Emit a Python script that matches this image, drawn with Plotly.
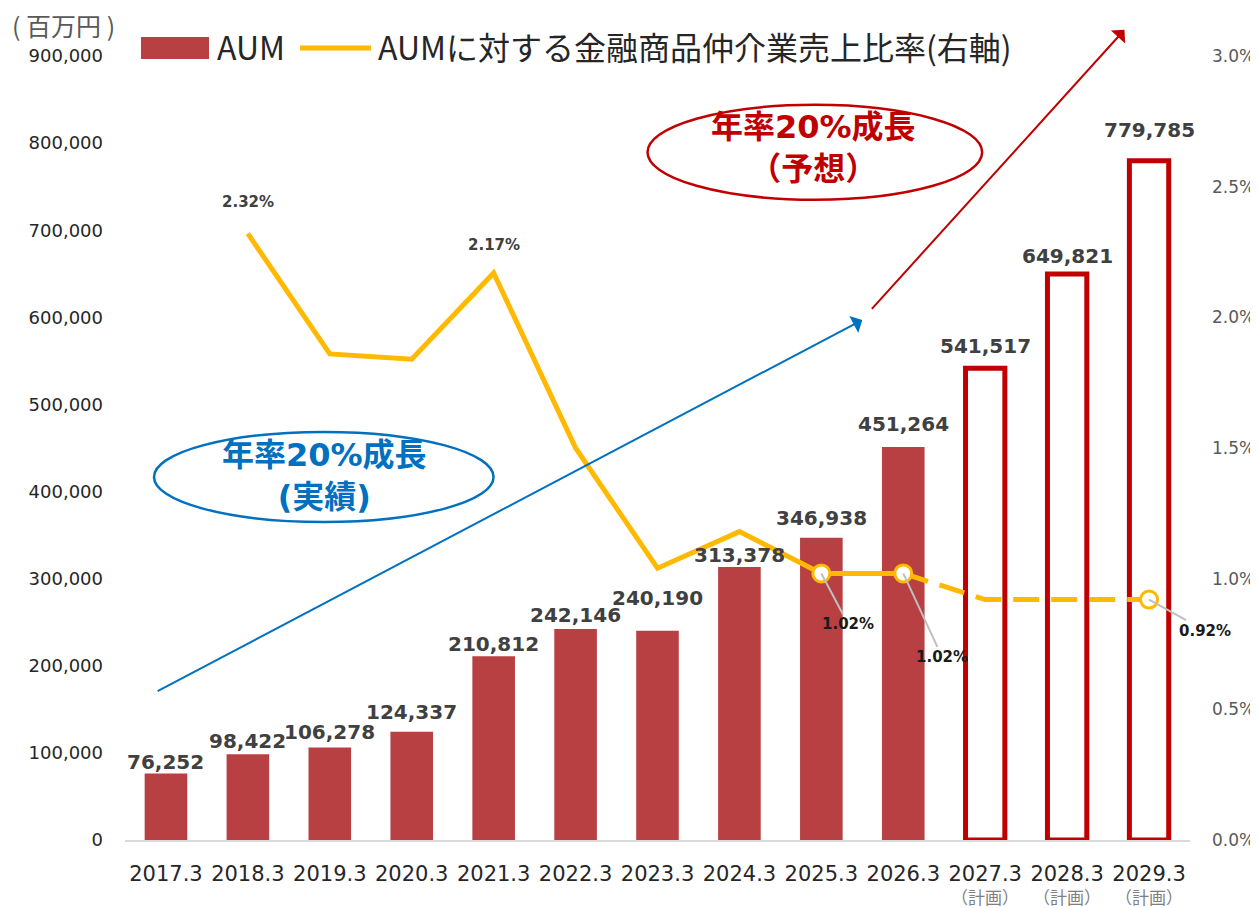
import plotly.graph_objects as go

# ---------------- data ----------------
categories = ["2017.3", "2018.3", "2019.3", "2020.3", "2021.3", "2022.3", "2023.3",
              "2024.3", "2025.3", "2026.3", "2027.3", "2028.3", "2029.3"]
plan_flags = [False] * 10 + [True] * 3
plan_note = "（計画）"
aum_actual = [76252, 98422, 106278, 124337, 210812, 242146, 240190,
              313378, 346938, 451264, None, None, None]
aum_plan = [None] * 10 + [541517, 649821, 779785]
ratio_actual = [None, 2.32, 1.86, 1.84, 2.17, 1.50, 1.04, 1.18, 1.02, 1.02, None, None, None]
ratio_plan = [None] * 9 + [1.02, 0.92, 0.92, 0.92]
ratio_marker = [None] * 8 + [1.02, 1.02, None, None, 0.92]

FONT = "DejaVu Sans, Noto Sans CJK JP, sans-serif"
JP = "Noto Sans CJK JP, sans-serif"
BAR_RED = "#B84042"
DARK_RED = "#C00000"
YELLOW = "#FFB900"
BLUE = "#0070C0"

# page is offset by the default 8px body margin
OFF = 8
W, H = 1250, 900
ML, MR, MT, MB = 117, 68, 48, 68
PW, PH = W - ML - MR, H - MT - MB


def px(xp, yp):
    """page pixel -> paper coords"""
    return (xp - OFF - ML) / PW, 1 - (yp - OFF - MT) / PH


fig = go.Figure()

fig.add_trace(go.Bar(x=categories, y=aum_actual, name="AUM", width=0.52,
                     marker=dict(color=BAR_RED, line=dict(width=0)), showlegend=False))
fig.add_trace(go.Bar(x=categories, y=aum_plan, name="AUM(計画)", width=0.48,
                     marker=dict(color="white", line=dict(color=DARK_RED, width=5)),
                     showlegend=False))

fig.add_trace(go.Scatter(x=categories, y=ratio_actual, yaxis="y2", mode="lines",
                         line=dict(color=YELLOW, width=5), showlegend=False))
fig.add_trace(go.Scatter(x=categories, y=ratio_plan, yaxis="y2", mode="lines",
                         line=dict(color=YELLOW, width=5, dash="26px,12px"), showlegend=False))
fig.add_trace(go.Scatter(x=categories, y=ratio_marker, yaxis="y2", mode="markers",
                         marker=dict(size=17, color="white", line=dict(color=YELLOW, width=3)),
                         showlegend=False))

annotations = []

# bar value labels (category index used as x)
bar_values = [a if a is not None else p for a, p in zip(aum_actual, aum_plan)]
label_shift = [12, 13, 15, 20, 12, 14, 33, 12, 20, 23, 22, 18, 31]
for i, (v, s) in enumerate(zip(bar_values, label_shift)):
    annotations.append(dict(x=i, y=v, xref="x", yref="y", text=f"{v:,}", showarrow=False,
                            yanchor="middle", yshift=s,
                            font=dict(family=FONT, size=20, color="#404040", weight="bold")))

# "(計画)" notes under planned categories
_, note_y = px(0, 896)
for i, p in enumerate(plan_flags):
    if p:
        annotations.append(dict(x=i, y=note_y, xref="x", yref="paper", text=plan_note,
                                showarrow=False, yanchor="middle", borderpad=0,
                                font=dict(family=JP, size=17, color="#7F7F7F")))

# ratio labels above line
for i, s in [(1, 32), (4, 28)]:
    annotations.append(dict(x=i, y=ratio_actual[i], xref="x", yref="y2",
                            text=f"{ratio_actual[i]:.2f}%", showarrow=False, yanchor="middle",
                            yshift=s, font=dict(family=FONT, size=15, color="#404040", weight="bold")))

# ratio labels with leader lines
for i, ax, ay in [(8, 27, 51), (9, 39, 84), (12, 56, 31)]:
    annotations.append(dict(x=i, y=ratio_marker[i], xref="x", yref="y2",
                            text=f"{ratio_marker[i]:.2f}%", showarrow=True, arrowhead=0,
                            arrowcolor="#BFBFBF", arrowwidth=2, ax=ax, ay=ay, standoff=0,
                            font=dict(family=FONT, size=15, color="#1A1A1A", weight="bold")))

# growth arrows
annotations.append(dict(x=8.5, y=597000, xref="x", yref="y", ax=-0.12, ay=170000,
                        axref="x", ayref="y", showarrow=True, arrowhead=1, arrowsize=1.6,
                        arrowwidth=2, arrowcolor=BLUE, text=""))
annotations.append(dict(x=11.7, y=930000, xref="x", yref="y", ax=8.6, ay=608000,
                        axref="x", ayref="y", showarrow=True, arrowhead=1, arrowsize=1.6,
                        arrowwidth=2, arrowcolor=DARK_RED, text=""))

# ellipse texts
annotations.append(dict(x=1.935, y=418000, xref="x", yref="y", showarrow=False,
                        text="年率20%成長<br>(実績)",
                        font=dict(family=FONT, size=32, color=BLUE, weight="bold")))
annotations.append(dict(x=7.91, y=794000, xref="x", yref="y", showarrow=False,
                        text="年率20%成長<br>（予想）",
                        font=dict(family=FONT, size=32, color=DARK_RED, weight="bold")))

# unit label
ux, uy = px(10, 25)
annotations.append(dict(x=ux, y=uy, xref="paper", yref="paper", showarrow=False,
                        text="( 百万円 )", xanchor="left", yanchor="middle",
                        font=dict(family=JP, size=25, color="#595959")))

# custom legend texts
lx, ly = px(215, 46)
annotations.append(dict(x=lx, y=ly, xref="paper", yref="paper", text="AUM", showarrow=False,
                        xanchor="left", yanchor="middle",
                        font=dict(family=JP, size=32, color="#262626")))
lx, ly = px(376, 46)
annotations.append(dict(x=lx, y=ly, xref="paper", yref="paper",
                        text="AUMに対する金融商品仲介業売上比率(右軸)", showarrow=False,
                        xanchor="left", yanchor="middle",
                        font=dict(family=JP, size=32, color="#262626")))


def pbox(x0, y0, x1, y1):
    a0, b1 = px(x0, y0)
    a1, b0 = px(x1, y1)
    return dict(x0=a0, x1=a1, y0=b0, y1=b1)


shapes = [
    dict(type="circle", xref="x", yref="y", x0=-0.146, x1=3.999, y0=365000, y1=468500,
         line=dict(color=BLUE, width=2.5)),
    dict(type="circle", xref="x", yref="y", x0=5.878, x1=9.963, y0=735000, y1=844000,
         line=dict(color=DARK_RED, width=2.5)),
    dict(type="rect", xref="paper", yref="paper", fillcolor=BAR_RED, line=dict(width=0),
         **pbox(141, 37, 209, 59)),
    dict(type="line", xref="paper", yref="paper", line=dict(color=YELLOW, width=5),
         **pbox(300, 48, 371, 48)),
]

fig.update_layout(
    width=W, height=H, autosize=False,
    margin=dict(l=ML, r=MR, t=MT, b=MB, autoexpand=False),
    paper_bgcolor="white", plot_bgcolor="white",
    barmode="overlay",
    font=dict(family=FONT, color="#262626"),
    showlegend=False,
    xaxis=dict(type="category", tickvals=categories, ticktext=categories,
               tickfont=dict(family=FONT, size=21, color="#262626"),
               showline=True, linecolor="#D9D9D9", linewidth=1.5, ticks="",
               showgrid=False, range=[-0.5, 12.5], ticklabelstandoff=14, automargin=False),
    yaxis=dict(range=[0, 900000], dtick=100000, tickformat=",", showgrid=False,
               zeroline=False, showline=False, ticklabelstandoff=21, automargin=False,
               tickfont=dict(family=FONT, size=18, color="#262626")),
    yaxis2=dict(range=[0, 3], dtick=0.5, tickformat=".1f", ticksuffix="%", overlaying="y",
                side="right", showgrid=False, zeroline=False, showline=False, automargin=False,
                ticklabelstandoff=21, tickfont=dict(family=FONT, size=17, color="#595959")),
    annotations=annotations,
    shapes=shapes,
)

fig.write_html("out.html")
